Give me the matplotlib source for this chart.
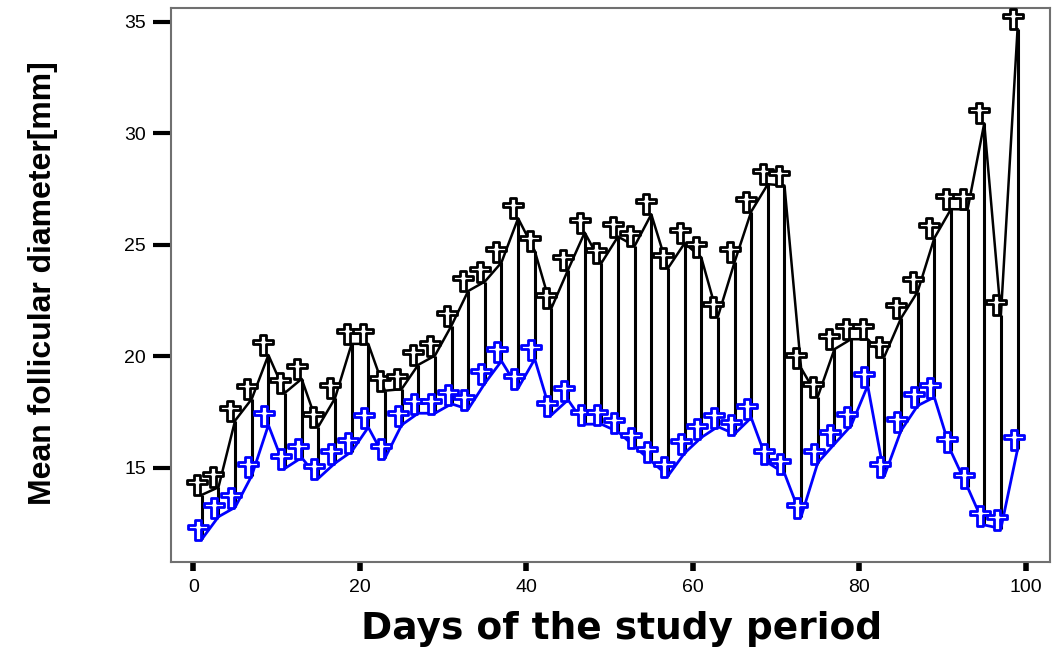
import matplotlib
matplotlib.use("Agg")
import matplotlib.pyplot as plt
import matplotlib.transforms as mtransforms
from matplotlib.path import Path

# Study days (every second day)
days = [1, 3, 5, 7, 9, 11, 13, 15, 17, 19,
        21, 23, 25, 27, 29, 31, 33, 35, 37, 39,
        41, 43, 45, 47, 49, 51, 53, 55, 57, 59,
        61, 63, 65, 67, 69, 71, 73, 75, 77, 79,
        81, 83, 85, 87, 89, 91, 93, 95, 97, 99]

# Largest follicle (black) and second follicle (blue), mean diameter in mm
upper = [13.78, 14.12, 17.11, 18.08, 20.05, 18.36, 18.98, 16.84, 18.11, 20.55,
         20.55, 18.45, 18.52, 19.61, 20.02, 21.37, 22.92, 23.34, 24.20, 26.18,
         24.72, 22.15, 23.87, 25.54, 24.17, 25.36, 24.94, 26.36, 23.94, 25.06,
         24.43, 21.77, 24.21, 26.48, 27.71, 27.65, 19.46, 18.18, 20.31, 20.76,
         20.76, 19.98, 21.70, 22.89, 25.29, 26.59, 26.58, 30.44, 21.84, 34.66]
lower = [11.79, 12.80, 13.22, 14.64, 16.91, 14.97, 15.45, 14.52, 15.20, 15.72,
         16.81, 15.42, 16.91, 17.44, 17.44, 17.86, 17.62, 18.78, 19.78, 18.56,
         19.87, 17.36, 18.04, 16.95, 16.95, 16.61, 15.94, 15.29, 14.63, 15.65,
         16.35, 16.84, 16.51, 17.24, 15.22, 14.75, 12.80, 15.22, 16.06, 16.88,
         18.68, 14.63, 16.66, 17.78, 18.16, 15.73, 14.12, 12.43, 12.27, 15.82]

xticks = [0, 20, 40, 60, 80, 100]
yticks = [15, 20, 25, 30, 35]

# cross-shaped marker like the SPSS glyph
cross = Path([(-0.13, 0.45), (0.13, 0.45), (0.13, 0.22), (0.5, 0.22),
              (0.5, -0.02), (0.13, -0.02), (0.13, -0.55), (-0.13, -0.55),
              (-0.13, -0.02), (-0.5, -0.02), (-0.5, 0.22), (-0.13, 0.22),
              (-0.13, 0.45)], closed=True)

fig = plt.figure(figsize=(10.55, 6.5), dpi=100)
ax = fig.add_axes([171 / 1055, 1 - 562 / 650, 879 / 1055, 554 / 650])

# high-low bars between the two series
ax.vlines(days, lower, upper, color='black', lw=2.2, zorder=2)
ax.plot(days, upper, color='black', lw=1.8, zorder=3)
ax.plot(days, lower, color='#0000ff', lw=2.0, zorder=3)

# markers sit slightly up-left of the data vertex, as in the original
off_black = mtransforms.offset_copy(ax.transData, fig=fig, x=-5, y=11, units='dots')
off_blue = mtransforms.offset_copy(ax.transData, fig=fig, x=-4, y=10, units='dots')
ax.plot(days, upper, ls='none', marker=cross, ms=16, mfc='white', mec='black',
        mew=2.0, transform=off_black, zorder=4)
ax.plot(days, lower, ls='none', marker=cross, ms=16, mfc='white', mec='#0000ff',
        mew=2.0, transform=off_blue, zorder=4)

ax.set_xlim(-2.7, 102.9)
ax.set_ylim(10.77, 35.61)
ax.set_xticks(xticks)
ax.set_yticks(yticks)

tick_font = ['Liberation Sans', 'DejaVu Sans']
for lab in ax.get_xticklabels() + ax.get_yticklabels():
    lab.set_family(tick_font)
    lab.set_fontsize(14)
ax.tick_params(axis='y', length=13, width=3, pad=5, direction='out')
ax.tick_params(axis='x', length=6.5, width=4, pad=6, direction='out')

for sp in ax.spines.values():
    sp.set_color('#707070')
    sp.set_linewidth(1.5)

ax.set_ylabel('Mean follicular diameter[mm]', family='Liberation Sans',
              fontsize=23, fontweight='bold')
ax.yaxis.set_label_coords(-0.1286, 0.504)

ax.set_xlabel('Days of the study period', family='DejaVu Sans',
              fontsize=27, fontweight='bold')
ax.xaxis.set_label_coords(0.513, -0.088)

fig.savefig('out.png', dpi=100)
